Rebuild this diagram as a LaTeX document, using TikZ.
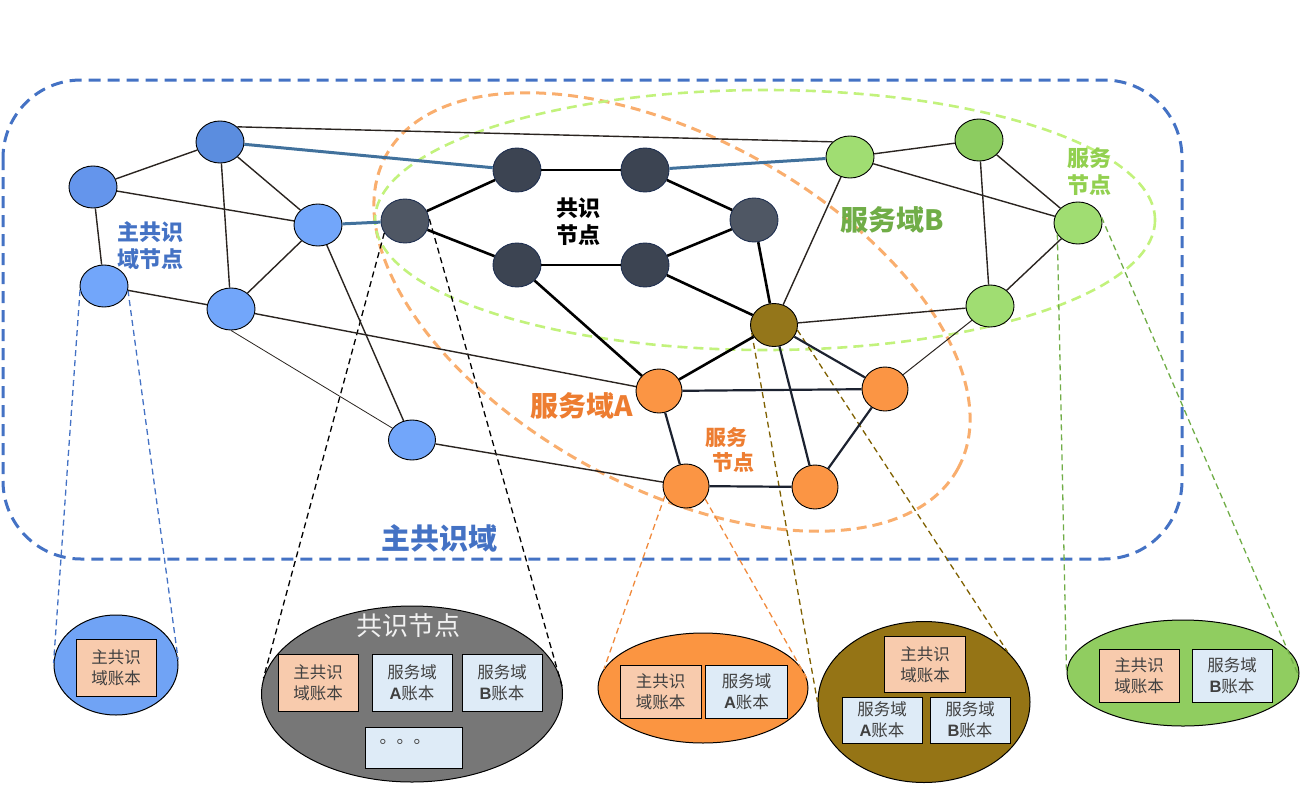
\documentclass[tikz,border=0pt]{standalone}
\usepackage{fontspec}
\setmainfont{Noto Sans CJK SC}
\newfontfamily\lat{Liberation Sans}
\usetikzlibrary{shapes.geometric}
\definecolor{domblue}{HTML}{4472C4}
\definecolor{steelE}{HTML}{41719C}
\definecolor{thinC}{HTML}{2A2420}
\definecolor{navyE}{HTML}{1C2230}
\definecolor{ndblueA}{HTML}{6495EC}
\definecolor{ndblueB}{HTML}{5B8DDF}
\definecolor{ndblueC}{HTML}{72A6FA}
\definecolor{ndcons}{HTML}{3C4452}
\definecolor{ndconsL}{HTML}{4F5764}
\definecolor{ndbrown}{HTML}{94761A}
\definecolor{ndgreen}{HTML}{A0DD72}
\definecolor{ndgreenD}{HTML}{8CCC60}
\definecolor{ndorange}{HTML}{FB9544}
\definecolor{orangedash}{HTML}{F9AE6E}
\definecolor{greendash}{HTML}{C2F27C}
\definecolor{labgreen}{HTML}{70AD47}
\definecolor{labgreenL}{HTML}{92D050}
\definecolor{laborange}{HTML}{ED7D31}
\definecolor{peach}{HTML}{F8CBAD}
\definecolor{lightbox}{HTML}{DEEBF7}
\definecolor{txtgray}{HTML}{404040}
\definecolor{elblue}{HTML}{70A3F5}
\definecolor{elgray}{HTML}{777777}
\definecolor{elorange}{HTML}{FB9541}
\definecolor{elbrown}{HTML}{957415}
\definecolor{elgreen}{HTML}{90CD60}
\definecolor{zbrown}{HTML}{7F6000}
\definecolor{zorange}{HTML}{F08A3C}
\definecolor{consline}{HTML}{1F2F50}
\begin{document}
\begin{tikzpicture}[x=1pt,y=-1pt,
  nd/.style={ellipse, draw=black, line width=0.9pt, minimum width=48pt, minimum height=42pt, inner sep=0pt},
  cnd/.style={nd, draw=consline, minimum height=44pt},
  thinE/.style={draw=thinC, line width=1.4pt},
  consE/.style={draw=black, line width=2.6pt},
  navy/.style={draw=navyE, line width=2.2pt},
  steel/.style={draw=steelE, line width=3pt},
  zoomln/.style={dash pattern=on 6pt off 4pt, line width=1.3pt},
  bigel/.style={ellipse, draw=black, line width=1pt, inner sep=0pt},
  box/.style={draw=black, line width=1pt, inner sep=0pt, minimum width=80pt, minimum height=57pt, align=center, text=txtgray, font=\fontsize{16.5}{21}\selectfont},
  lab/.style={align=center, font=\bfseries\fontsize{22}{27}\selectfont},
  biglab/.style={font=\bfseries\fontsize{28}{30}\selectfont}
]
\useasboundingbox (0,0) rectangle (1303,784);
% domains
\draw[domblue, line width=3pt, dash pattern=on 12pt off 7pt, rounded corners=78pt] (3,80) rectangle (1182,559);
\draw[orangedash, line width=3pt, dash pattern=on 10pt off 6pt, rotate around={-28.7:(672,312)}] (672,312) ellipse [x radius=326, y radius=175];
\draw[greendash, line width=2.6pt, dash pattern=on 10pt off 6pt] (765,220) ellipse [x radius=390, y radius=130];
% nodes
\node[nd, fill=ndblueA] (b1) at (93,187) {};
\node[nd, fill=ndblueB] (b2) at (220,142) {};
\node[nd, fill=ndblueC] (b3) at (318,225) {};
\node[nd, fill=ndblueC] (b4) at (104,286) {};
\node[nd, fill=ndblueC] (b5) at (231,309) {};
\node[nd, fill=ndblueC, minimum width=47pt, minimum height=40pt] (b6) at (412,440) {};
\node[cnd, fill=ndconsL] (c1) at (405,221) {};
\node[cnd, fill=ndcons] (c2) at (517,170) {};
\node[cnd, fill=ndcons] (c3) at (645,170) {};
\node[cnd, fill=ndconsL] (c4) at (754,220) {};
\node[cnd, fill=ndcons] (c5) at (517,265) {};
\node[cnd, fill=ndcons] (c6) at (645,265) {};
\node[nd, fill=ndbrown, minimum width=47pt, minimum height=43pt] (m) at (774,325) {};
\node[nd, fill=ndgreen] (g1) at (850,157) {};
\node[nd, fill=ndgreenD] (g2) at (979,140) {};
\node[nd, fill=ndgreen] (g3) at (1078,223) {};
\node[nd, fill=ndgreen] (g4) at (990,306) {};
\node[nd, fill=ndorange, minimum width=46pt, minimum height=44pt] (o1) at (659,391) {};
\node[nd, fill=ndorange, minimum width=46pt, minimum height=44pt] (o2) at (885,389) {};
\node[nd, fill=ndorange, minimum width=46pt, minimum height=44pt] (o3) at (686,486) {};
\node[nd, fill=ndorange, minimum width=46pt, minimum height=44pt] (o4) at (815,487) {};
% bottom ellipses
\node[bigel, fill=elblue, minimum width=124pt, minimum height=100pt] (eb) at (116,665) {};
\node[bigel, fill=elgray, minimum width=301pt, minimum height=176pt] (eg) at (412,694) {};
\node[bigel, fill=elorange, minimum width=210pt, minimum height=110pt] (eo) at (703,688) {};
\node[bigel, fill=elbrown, minimum width=212pt, minimum height=161pt] (em) at (924,702) {};
\node[bigel, fill=elgreen, minimum width=232pt, minimum height=106pt] (eG) at (1183,673) {};
% zoom lines
\draw[zoomln, domblue] (b4.190) -- (eb.178);
\draw[zoomln, domblue] (b4.-10) -- (eb.5);
\draw[zoomln, black] (c1.210) -- (eg.174);
\draw[zoomln, black] (c1.5) -- (eg.2);
\draw[zoomln, zorange] (o3.205) -- (eo.169);
\draw[zoomln, zorange] (o3.-34) -- (eo.5);
\draw[zoomln, zbrown] (m.200) -- (em.180);
\draw[zoomln, zbrown] (m.-12) -- (em.31);
\draw[zoomln, labgreen] (g3.209) -- (eG.180);
\draw[zoomln, labgreen] (g3.14) -- (eG.-2);
% edges
\draw[thinE] (b1) -- (b2);
\draw[thinE] (b1) -- (b3);
\draw[thinE] (b1) -- (b4);
\draw[thinE] (b2) -- (b3);
\draw[thinE] (b2) -- (b5);
\draw[thinE] (b3) -- (b5);
\draw[thinE] (b4) -- (b5);
\draw[thinE] (b3) -- (b6);
\draw[thinE, line width=0.8pt] (b5.south) -- (b6);
\draw[thinE] (b5) -- (o1);
\draw[thinE] (b6) -- (o3);
\draw[thinE] (b2.north east) -- (g1.north west);
\draw[steel] (b2) -- (c2);
\draw[steel] (b3) -- (c1);
\draw[steel] (c3) -- (g1);
\draw[consE] (c1) -- (c2);
\draw[consE] (c1) -- (c5);
\draw[consE] (c2) -- (c3);
\draw[consE] (c5) -- (c6);
\draw[consE] (c3) -- (c4);
\draw[consE] (c6) -- (c4);
\draw[consE] (c6) -- (m);
\draw[consE] (c4) -- (m);
\draw[consE] (c5) -- (o1);
\draw[consE] (m) -- (o1);
\draw[thinE] (m) -- (g1);
\draw[thinE] (m) -- (g4);
\draw[navy] (m) -- (o2);
\draw[navy] (m) -- (o4);
\draw[thinE] (g1) -- (g2);
\draw[thinE] (g1) -- (g3);
\draw[thinE] (g2) -- (g3);
\draw[thinE] (g2) -- (g4);
\draw[thinE] (g3) -- (g4);
\draw[thinE, line width=1pt] (g4) -- (o2);
\draw[navy] (o1) -- (o2);
\draw[navy] (o1) -- (o3);
\draw[navy] (o2) -- (o4);
\draw[navy] (o3) -- (o4);
% labels
\node[lab, text=domblue] (lzn) at (150,246) {主共识\\域节点};
\node[lab, text=black] (lcn) at (578,222) {共识\\节点};
\node[biglab, text=labgreen] (lsb) at (892,220) {服务域B};
\node[lab, text=labgreenL] (lgn) at (1089,172) {服务\\节点};
\node[biglab, text=laborange] (lsa) at (582,406) {服务域A};
\node[lab, text=laborange, font=\bfseries\fontsize{21}{25}\selectfont] (lon) at (726,450) {服务\\\hspace*{14pt}节点};
\node[biglab, text=domblue, font=\bfseries\fontsize{29}{30}\selectfont] (lmain) at (439,538) {主共识域};
% boxes
\node[box, fill=peach] (x1) at (116,668) {主共识\\域账本};
\node[text=white!95!black, font=\fontsize{26}{28}\selectfont] (gt) at (408,626) {共识节点};
\node[box, fill=peach] (x2) at (318,683) {主共识\\域账本};
\node[box, fill=lightbox] (x3) at (412,683) {服务域\\{\lat\bfseries A}账本};
\node[box, fill=lightbox] (x4) at (502,683) {服务域\\{\lat\bfseries B}账本};
\node[box, fill=lightbox, minimum width=97pt, minimum height=41pt] (x5) at (413.5,747.5) {};
\node[text=txtgray, font=\fontsize{17}{17}\selectfont] (x5t) at (405,742) {。。。};
\node[box, fill=peach, minimum width=81pt, minimum height=53pt] (x6) at (660.5,691.5) {主共识\\域账本};
\node[box, fill=lightbox, minimum width=82pt, minimum height=53pt] (x7) at (746.5,691.5) {服务域\\{\lat\bfseries A}账本};
\node[box, fill=peach, minimum width=81pt, minimum height=56pt] (x8) at (925,664.5) {主共识\\域账本};
\node[box, fill=lightbox, minimum width=80pt, minimum height=46pt] (x9) at (882,720) {服务域\\{\lat\bfseries A}账本};
\node[box, fill=lightbox, minimum width=80pt, minimum height=46pt] (x10) at (970,720) {服务域\\{\lat\bfseries B}账本};
\node[box, fill=peach, minimum width=80pt, minimum height=53pt] (x11) at (1139,675.5) {主共识\\域账本};
\node[box, fill=lightbox, minimum width=80pt, minimum height=53pt] (x12) at (1232,675.5) {服务域\\{\lat\bfseries B}账本};
\end{tikzpicture}
\end{document}
